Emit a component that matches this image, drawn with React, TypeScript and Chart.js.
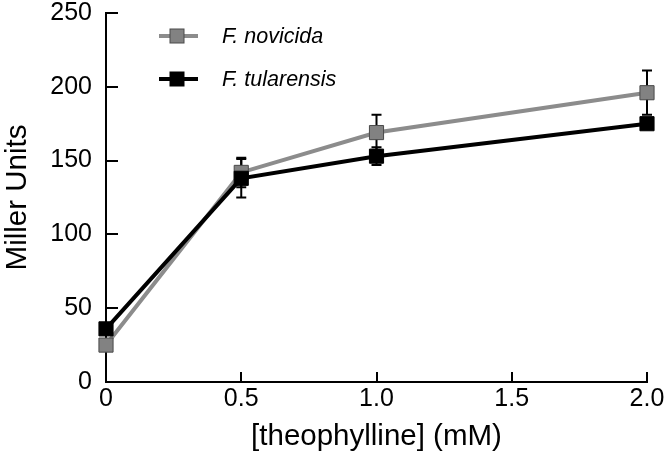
import React, { useEffect, useRef } from "react";
import { Chart, registerables } from "chart.js";

Chart.register(...registerables);

const concentrations = [0, 0.5, 1.0, 2.0];
const novicidaValues = [25, 142, 169, 196];
const novicidaErr = [0, 10, 12, 15];
const tularensisValues = [36, 138, 153, 175];
const tularensisErr = [0, 13, 6, 0];
const xTickValues = [0, 0.5, 1.0, 1.5, 2.0];
const xTickLabels = ["0", "0.5", "1.0", "1.5", "2.0"];
const yTickValues = [0, 50, 100, 150, 200, 250];
const legendLabels = ["F. novicida", "F. tularensis"];

const FONT = "'Liberation Sans', Arial, Helvetica, sans-serif";
const GRAY_LINE = "#8c8c8c";
const GRAY_FILL = "#828282";
const GRAY_BORDER = "#4a4a4a";

export default function App() {
  const ref = useRef<HTMLCanvasElement | null>(null);

  useEffect(() => {
    if (!ref.current) return;

    const errorBars = {
      id: "errorBars",
      beforeDatasetsDraw(chart: any) {
        const { ctx, scales } = chart;
        const xs = scales.x;
        const ys = scales.y;
        ctx.save();
        ctx.strokeStyle = "#000";
        ctx.lineWidth = 2;
        const sets = [
          { v: novicidaValues, e: novicidaErr },
          { v: tularensisValues, e: tularensisErr },
        ];
        sets.forEach((s) => {
          concentrations.forEach((c, i) => {
            if (!s.e[i]) return;
            const px = xs.getPixelForValue(c);
            const top = ys.getPixelForValue(s.v[i] + s.e[i]);
            const bot = ys.getPixelForValue(s.v[i] - s.e[i]);
            ctx.beginPath();
            ctx.moveTo(px, top);
            ctx.lineTo(px, bot);
            ctx.moveTo(px - 5, top);
            ctx.lineTo(px + 5, top);
            ctx.moveTo(px - 5, bot);
            ctx.lineTo(px + 5, bot);
            ctx.stroke();
          });
        });
        ctx.restore();
      },
    };

    const axisTicks = {
      id: "axisTicks",
      afterDraw(chart: any) {
        const { ctx, scales, chartArea } = chart;
        ctx.save();
        ctx.strokeStyle = "#000";
        ctx.lineWidth = 2;
        ctx.beginPath();
        yTickValues.forEach((v) => {
          if (v === 0) return;
          const y = Math.round(scales.y.getPixelForValue(v));
          ctx.moveTo(chartArea.left, y);
          ctx.lineTo(chartArea.left + 12, y);
        });
        xTickValues.forEach((v) => {
          if (v === 0) return;
          const x = Math.round(scales.x.getPixelForValue(v));
          ctx.moveTo(x, chartArea.bottom);
          ctx.lineTo(x, chartArea.bottom - 10);
        });
        ctx.stroke();

        // legend
        const entries = [
          { label: legendLabels[0], line: GRAY_LINE, fill: GRAY_FILL, border: GRAY_BORDER, y: 36 },
          { label: legendLabels[1], line: "#000", fill: "#000", border: "#000", y: 79 },
        ];
        entries.forEach((e) => {
          ctx.strokeStyle = e.line;
          ctx.lineWidth = 4;
          ctx.beginPath();
          ctx.moveTo(159, e.y);
          ctx.lineTo(198, e.y);
          ctx.stroke();
          ctx.fillStyle = e.fill;
          ctx.strokeStyle = e.border;
          ctx.lineWidth = 1;
          ctx.fillRect(170, e.y - 7, 14, 14);
          ctx.strokeRect(170, e.y - 7, 14, 14);
          ctx.fillStyle = "#000";
          ctx.font = `italic 21.5px ${FONT}`;
          ctx.textBaseline = "middle";
          ctx.textAlign = "left";
          ctx.fillText(e.label, 222, e.y + 1);
        });
        ctx.restore();
      },
    };

    const chart = new Chart(ref.current, {
      type: "line",
      data: {
        datasets: [
          {
            label: legendLabels[1],
            data: concentrations.map((c, i) => ({ x: c, y: tularensisValues[i] })),
            borderColor: "#000",
            backgroundColor: "#000",
            borderWidth: 4,
            pointStyle: "rect",
            pointRadius: 10,
            pointBackgroundColor: "#000",
            pointBorderColor: "#000",
            pointBorderWidth: 1,
            tension: 0,
            clip: false,
          },
          {
            label: legendLabels[0],
            data: concentrations.map((c, i) => ({ x: c, y: novicidaValues[i] })),
            borderColor: GRAY_LINE,
            backgroundColor: GRAY_FILL,
            borderWidth: 4,
            pointStyle: "rect",
            pointRadius: 10,
            pointBackgroundColor: GRAY_FILL,
            pointBorderColor: GRAY_BORDER,
            pointBorderWidth: 1,
            tension: 0,
            clip: false,
          },
        ],
      },
      options: {
        animation: false,
        responsive: false,
        maintainAspectRatio: false,
        layout: { padding: { top: 13, right: 19, left: 0, bottom: 0 } },
        plugins: {
          legend: { display: false },
          tooltip: { enabled: false },
        },
        scales: {
          x: {
            type: "linear",
            min: 0,
            max: 2,
            afterFit: (s: any) => {
              s.height = 78;
              s.paddingLeft = 0;
              s.paddingRight = 0;
            },
            afterBuildTicks: (s: any) => {
              s.ticks = xTickValues.map((v) => ({ value: v }));
            },
            ticks: {
              color: "#000",
              font: { family: FONT, size: 25, lineHeight: 1.2 },
              padding: 2,
              maxRotation: 0,
              autoSkip: false,
              callback: (v: any) => {
                const i = xTickValues.indexOf(Number(v));
                return i >= 0 ? xTickLabels[i] : "";
              },
            },
            grid: { display: true, drawOnChartArea: false, drawTicks: false },
            border: { display: true, color: "#000", width: 2 },
            title: {
              display: true,
              text: "[theophylline] (mM)",
              color: "#000",
              font: { family: FONT, size: 29.5, lineHeight: 1.2 },
              padding: { top: 0, bottom: 5 },
            },
          },
          y: {
            type: "linear",
            min: 0,
            max: 250,
            afterFit: (s: any) => {
              s.width = 106;
              s.paddingTop = 0;
              s.paddingBottom = 0;
            },
            afterBuildTicks: (s: any) => {
              s.ticks = yTickValues.map((v) => ({ value: v }));
            },
            ticks: {
              color: "#000",
              font: { family: FONT, size: 25, lineHeight: 1 },
              padding: 14,
              autoSkip: false,
            },
            grid: { display: true, drawOnChartArea: false, drawTicks: false },
            border: { display: true, color: "#000", width: 2 },
            title: {
              display: true,
              text: "Miller Units",
              color: "#000",
              font: { family: FONT, size: 29.5, lineHeight: 1.2 },
              padding: { top: 0, bottom: 0 },
            },
          },
        },
      },
      plugins: [errorBars, axisTicks],
    });

    return () => chart.destroy();
  }, []);

  return (
    <div style={{ position: "fixed", left: 0, top: 0, width: 666, height: 460, background: "#fff" }}>
      <canvas ref={ref} width={666} height={460} style={{ display: "block", width: 666, height: 460 }} />
    </div>
  );
}
